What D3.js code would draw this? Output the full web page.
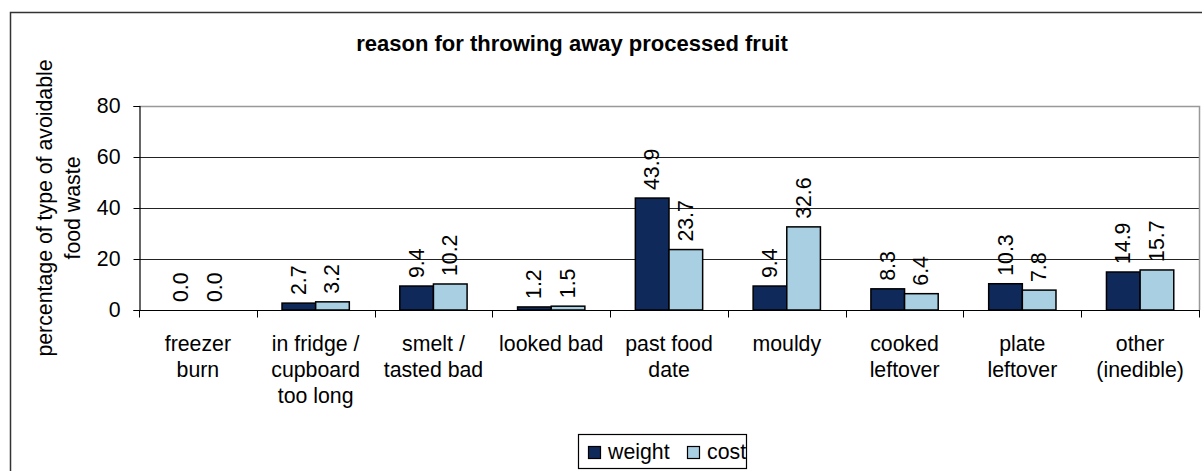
<!DOCTYPE html>
<html>
<head>
<meta charset="utf-8">
<script src="https://cdn.jsdelivr.net/npm/d3@7"></script>
<style>
  html, body { margin: 0; padding: 0; background: #fff; }
  svg { display: block; font-family: "Liberation Sans", Arial, sans-serif; }
</style>
</head>
<body>
<svg id="chart" width="1202" height="471"></svg>
<script>
const categories = [
  ["freezer", "burn"],
  ["in fridge /", "cupboard", "too long"],
  ["smelt /", "tasted bad"],
  ["looked bad"],
  ["past food", "date"],
  ["mouldy"],
  ["cooked", "leftover"],
  ["plate", "leftover"],
  ["other", "(inedible)"]
];
const seriesNames = ["weight", "cost"];
const weightValues = [0.0, 2.7, 9.4, 1.2, 43.9, 9.4, 8.3, 10.3, 14.9];
const costValues = [0.0, 3.2, 10.2, 1.5, 23.7, 32.6, 6.4, 7.8, 15.7];
const yTicks = [0, 20, 40, 60, 80];
const titleText = "reason for throwing away processed fruit";
const yTitleLines = ["percentage of type of avoidable", "food waste"];

const colors = { weight: "#10295b", cost: "#a9cfe2" };
const FS = 21.3;

const svg = d3.select("#chart");

// outer chart border (extends beyond the view right/bottom)
svg.append("rect")
  .attr("x", 10.5).attr("y", 12.5).attr("width", 1220).attr("height", 480)
  .attr("fill", "#fff").attr("stroke", "#333").attr("stroke-width", 1.5);

const plot = { left: 139, right: 1199, top: 106, bottom: 310 };

const catIdx = categories.map((c, i) => i);
const x0 = d3.scaleBand().domain(catIdx).range([plot.left, plot.right]).padding(0);
const x1 = d3.scaleBand().domain(seriesNames).range([0, x0.bandwidth()])
  .paddingInner(0).paddingOuter(0.75);
const y = d3.scaleLinear().domain([0, 80]).range([plot.bottom, plot.top]);

// gridlines
svg.append("g").selectAll("line").data(yTicks.filter(t => t > 0 && t < 80)).join("line")
  .attr("x1", plot.left).attr("x2", plot.right)
  .attr("y1", d => Math.round(y(d)) + 0.5).attr("y2", d => Math.round(y(d)) + 0.5)
  .attr("stroke", "#222").attr("stroke-width", 1);

// plot area border (top & right gray)
svg.append("path")
  .attr("d", `M${plot.left},${plot.top + 0.5}H${plot.right + 0.5}V${plot.bottom}`)
  .attr("fill", "none").attr("stroke", "#999").attr("stroke-width", 1.5);

// bars
const data = catIdx.map(i => ({ i, values: [
  { key: "weight", value: weightValues[i] },
  { key: "cost", value: costValues[i] }
]}));

const groups = svg.append("g").selectAll("g").data(data).join("g")
  .attr("transform", d => `translate(${x0(d.i)},0)`);

groups.selectAll("rect").data(d => d.values.filter(v => v.value > 0)).join("rect")
  .attr("x", d => x1(d.key))
  .attr("y", d => y(d.value))
  .attr("width", x1.bandwidth())
  .attr("height", d => y(0) - y(d.value))
  .attr("fill", d => colors[d.key])
  .attr("stroke", "#000").attr("stroke-width", 1.5);

// data labels (rotated)
groups.selectAll("text").data(d => d.values).join("text")
  .attr("transform", d => `translate(${x1(d.key) + x1.bandwidth() / 2 + 7},${y(d.value) - 8}) rotate(-90)`)
  .attr("text-anchor", "start")
  .attr("font-size", FS)
  .attr("fill", "#000")
  .text(d => d.value.toFixed(1));

// y axis
const yAxis = d3.axisLeft(y).tickValues(yTicks).tickSize(6).tickPadding(13).tickFormat(d3.format("d"));
const yg = svg.append("g").attr("transform", `translate(${plot.left + 0.5},0)`).call(yAxis);
yg.select(".domain").attr("stroke", "#000").attr("stroke-width", 1.2);
yg.selectAll(".tick line").attr("stroke", "#000");
yg.selectAll(".tick text").attr("font-size", FS).attr("font-family", "Liberation Sans, Arial, sans-serif").attr("fill", "#000");

// x axis
const xg = svg.append("g").attr("transform", `translate(0,${plot.bottom + 0.5})`);
xg.append("line").attr("x1", plot.left).attr("x2", plot.right + 1)
  .attr("stroke", "#000").attr("stroke-width", 1.2);
const boundaries = catIdx.map(i => x0(i)).concat([plot.right]);
xg.selectAll("line.tk").data(boundaries).join("line").attr("class", "tk")
  .attr("x1", d => Math.round(d) + 0.5).attr("x2", d => Math.round(d) + 0.5)
  .attr("y1", 0).attr("y2", 7).attr("stroke", "#000");

// category labels
const catText = svg.append("g").selectAll("text").data(data).join("text")
  .attr("text-anchor", "middle")
  .attr("font-size", FS)
  .attr("fill", "#000")
  .attr("transform", d => `translate(${x0(d.i) + x0.bandwidth() / 2},351)`);
catText.selectAll("tspan").data(d => categories[d.i]).join("tspan")
  .attr("x", 0).attr("y", (d, j) => j * 26).text(d => d);

// title
svg.append("text")
  .attr("x", 572).attr("y", 51)
  .attr("text-anchor", "middle")
  .attr("font-size", 22).attr("font-weight", "bold")
  .attr("fill", "#000")
  .text(titleText);

// y title
const yt = svg.append("text")
  .attr("transform", `translate(0,${(plot.top + plot.bottom) / 2}) rotate(-90)`)
  .attr("text-anchor", "middle")
  .attr("font-size", FS).attr("fill", "#000");
yt.selectAll("tspan").data(yTitleLines).join("tspan")
  .attr("x", 0).attr("y", (d, j) => 52 + j * 28).text(d => d);

// legend
const lg = svg.append("g");
lg.append("rect").attr("x", 578.5).attr("y", 434.5).attr("width", 168).attr("height", 34)
  .attr("fill", "#fff").attr("stroke", "#000").attr("stroke-width", 1.2);
const legendX = [588, 687];
seriesNames.forEach((s, i) => {
  lg.append("rect").attr("x", legendX[i] + 0.5).attr("y", 446.5).attr("width", 12).attr("height", 12)
    .attr("fill", colors[s]).attr("stroke", "#000").attr("stroke-width", 1.2);
  lg.append("text").attr("x", legendX[i] + 20).attr("y", 459)
    .attr("font-size", FS).attr("fill", "#000").text(s);
});
</script>
</body>
</html>
